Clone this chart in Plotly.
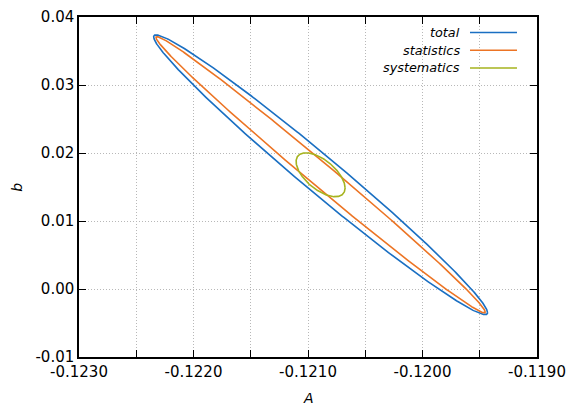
import numpy as np
import plotly.graph_objects as go

# Error-ellipse parameters
series_names = ["total", "statistics", "systematics"]
center_A = [-0.12089, -0.12089, -0.12089]
center_b = [0.01680, 0.01680, 0.01680]
sigma_A = [0.001458, 0.001438, 0.000214]
sigma_b = [0.02057, 0.02031, 0.00323]
rho = [-0.9855, -0.9940, -0.60]

x_tick_vals = [-0.1230, -0.1220, -0.1210, -0.1200, -0.1190]
x_tick_text = ["-0.1230", "-0.1220", "-0.1210", "-0.1200", "-0.1190"]
y_tick_vals = [0.04, 0.03, 0.02, 0.01, 0.00, -0.01]
y_tick_text = ["0.04", "0.03", "0.02", "0.01", "0.00", "-0.01"]

colors = ["#1a6fc2", "#ec7424", "#a6b31e"]

FONT = "DejaVu Sans"
GRID = dict(showgrid=True, gridcolor="#b8b8b8", griddash="1px,2px", gridwidth=1)

fig = go.Figure()
t = np.linspace(0, 2 * np.pi, 721)
for i, name in enumerate(series_names):
    xa = center_A[i] + sigma_A[i] * np.cos(t)
    yb = center_b[i] + sigma_b[i] * (rho[i] * np.cos(t) + np.sqrt(1 - rho[i] ** 2) * np.sin(t))
    fig.add_trace(go.Scatter(x=xa, y=yb, mode="lines", name=name,
                             line=dict(color=colors[i], width=1.6),
                             showlegend=False, hoverinfo="skip"))

# gnuplot-like key: text on the left, line sample on the right
key_y = [0.9542, 0.9021, 0.8501]
for i, name in enumerate(series_names):
    fig.add_annotation(x=0.8362, y=key_y[i], xref="paper", yref="paper",
                       text="<i>%s</i>" % name, showarrow=False,
                       xanchor="right", yanchor="middle",
                       font=dict(family=FONT, size=12.8, color="black"))
    fig.add_shape(type="line", xref="paper", yref="paper",
                  x0=0.8537, x1=0.9563, y0=key_y[i], y1=key_y[i],
                  line=dict(color=colors[i], width=1.6))

fig.add_annotation(x=0.5, y=-0.1205, xref="paper", yref="paper", text="<i>A</i>",
                   showarrow=False, xanchor="center", yanchor="middle",
                   font=dict(family=FONT, size=14, color="black"))
fig.add_annotation(x=-0.136, y=0.5, xref="paper", yref="paper", text="<i>b</i>",
                   showarrow=False, xanchor="center", yanchor="middle", textangle=-90,
                   font=dict(family=FONT, size=14, color="black"))

axis_common = dict(showline=True, linecolor="black", linewidth=1.5, mirror="ticks",
                   ticks="inside", ticklen=7, tickwidth=1, tickcolor="black",
                   zeroline=False, tickfont=dict(family=FONT, size=15, color="black"),
                   **GRID)

fig.update_xaxes(range=[-0.1230, -0.1190], tickmode="array",
                 tickvals=x_tick_vals, ticktext=x_tick_text,
                 minor=dict(dtick=0.0005, tick0=-0.1230, ticks="inside", ticklen=7,
                            tickwidth=1, tickcolor="black", **GRID),
                 **axis_common)
fig.update_yaxes(range=[-0.01, 0.04], tickmode="array",
                 tickvals=y_tick_vals, ticktext=y_tick_text, **axis_common)

fig.update_layout(width=568, height=407,
                  margin=dict(l=79, r=31, t=17, b=50, autoexpand=False),
                  plot_bgcolor="white", paper_bgcolor="white",
                  showlegend=False)

fig.write_html("out.html", config={"displayModeBar": False},
               post_script="document.body.style.margin='0';document.body.style.padding='0';")
